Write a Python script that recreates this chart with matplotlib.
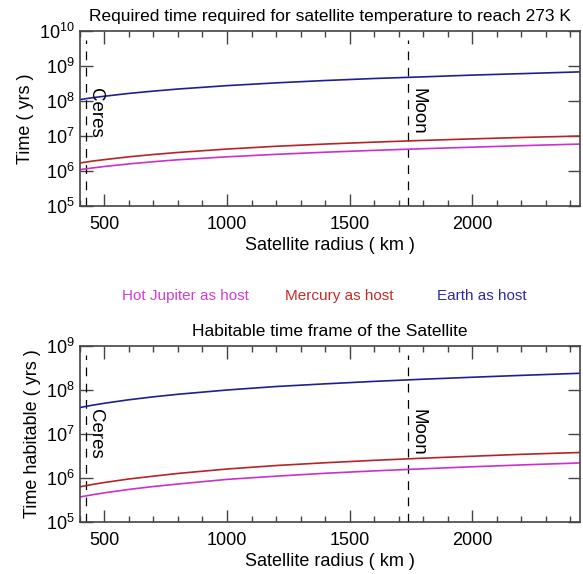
import matplotlib
matplotlib.use("Agg")
import matplotlib.pyplot as plt
from matplotlib.ticker import MultipleLocator, LogLocator, NullLocator, LogFormatterMathtext

plt.rcParams['font.family'] = ['Liberation Sans', 'DejaVu Sans']
plt.rcParams['mathtext.fontset'] = 'custom'
plt.rcParams['mathtext.rm'] = 'Liberation Sans'
plt.rcParams['mathtext.it'] = 'Liberation Sans'

radius = [400, 450, 500, 600, 700, 800, 1000, 1200, 1400, 1600, 1800, 2000, 2200, 2440]

# Top panel: time to reach 273 K
top_earth = [1.1e8, 1.24e8, 1.37e8, 1.65e8, 1.92e8, 2.2e8, 2.75e8, 3.3e8, 3.85e8, 4.4e8, 4.9e8, 5.5e8, 6.05e8, 6.8e8]
top_mercury = [1.7e6, 1.92e6, 2.12e6, 2.55e6, 2.97e6, 3.4e6, 4.25e6, 5.1e6, 5.9e6, 6.7e6, 7.5e6, 8.3e6, 9.1e6, 1.0e7]
top_jupiter = [1.1e6, 1.22e6, 1.35e6, 1.6e6, 1.85e6, 2.1e6, 2.55e6, 3.0e6, 3.45e6, 3.9e6, 4.35e6, 4.8e6, 5.3e6, 5.9e6]

# Bottom panel: habitable time
bot_earth = [4.0e7, 4.5e7, 5.0e7, 6.0e7, 7.0e7, 8.0e7, 1.0e8, 1.2e8, 1.38e8, 1.57e8, 1.76e8, 1.95e8, 2.15e8, 2.4e8]
bot_mercury = [6.3e5, 7.1e5, 7.9e5, 9.5e5, 1.1e6, 1.27e6, 1.6e6, 1.92e6, 2.22e6, 2.52e6, 2.82e6, 3.12e6, 3.45e6, 3.8e6]
bot_jupiter = [3.7e5, 4.15e5, 4.6e5, 5.5e5, 6.4e5, 7.3e5, 9.3e5, 1.1e6, 1.28e6, 1.45e6, 1.62e6, 1.8e6, 1.98e6, 2.2e6]

ceres_r = 425
moon_r = 1740
xlim = (400, 2440)

c_earth = '#1f1f95'
c_mercury = '#b52525'
c_jupiter = '#cc30cc'

fig = plt.figure(figsize=(5.83, 5.74), dpi=100)
ax1 = fig.add_axes([0.137, 0.641, 0.858, 0.305])
ax2 = fig.add_axes([0.137, 0.0906, 0.858, 0.3066])


def style(ax, ylim, ylabel, title, label_y):
    ax.set_yscale('log')
    ax.set_xlim(*xlim)
    ax.set_ylim(*ylim)
    ax.xaxis.set_major_locator(MultipleLocator(500))
    ax.xaxis.set_minor_locator(MultipleLocator(100))
    ax.yaxis.set_major_locator(LogLocator(base=10, numticks=20))
    ax.yaxis.set_minor_locator(NullLocator())
    ax.yaxis.set_major_formatter(LogFormatterMathtext())
    ax.tick_params(which='both', direction='in', top=True, right=True, labelsize=13, color='#444444')
    ax.tick_params(axis='x', which='both', pad=7)
    ax.tick_params(which='major', length=9, width=1)
    ax.tick_params(which='minor', length=4.5, width=1)
    for s in ax.spines.values():
        s.set_color('#444444')
        s.set_linewidth(1.2)
    ax.set_xlabel('Satellite radius ( km )', fontsize=13, labelpad=3)
    ax.set_ylabel(ylabel, fontsize=13, labelpad=4)
    ax.set_title(title, fontsize=12.5, pad=7.5)
    for r, name, in [(ceres_r, 'Ceres'), (moon_r, 'Moon')]:
        ax.axvline(r, ymin=0, ymax=0.95, color='black', lw=0.9, dashes=(7, 6))
        ax.text(r + 4, label_y, name, transform=ax.get_xaxis_transform(), rotation=-90,
                ha='left', va='top', fontsize=13.5)


style(ax1, (1e5, 1e10), 'Time ( yrs )',
      'Required time required for satellite temperature to reach 273 K', 0.675)
ax1.plot(radius, top_earth, color=c_earth, lw=1.2)
ax1.plot(radius, top_mercury, color=c_mercury, lw=1.2)
ax1.plot(radius, top_jupiter, color=c_jupiter, lw=1.2)

style(ax2, (1e5, 1e9), 'Time habitable ( yrs )', 'Habitable time frame of the Satellite', 0.64)
ax2.plot(radius, bot_earth, color=c_earth, lw=1.2)
ax2.plot(radius, bot_mercury, color=c_mercury, lw=1.2)
ax2.plot(radius, bot_jupiter, color=c_jupiter, lw=1.2)

fig.text(185 / 583, 1 - 296 / 574, 'Hot Jupiter as host', color='#d43cd4', fontsize=11, ha='center', va='center')
fig.text(339 / 583, 1 - 296 / 574, 'Mercury as host', color='#c42a2a', fontsize=11, ha='center', va='center')
fig.text(482 / 583, 1 - 296 / 574, 'Earth as host', color='#2a2aa8', fontsize=11, ha='center', va='center')

fig.savefig('out.png', dpi=100)
